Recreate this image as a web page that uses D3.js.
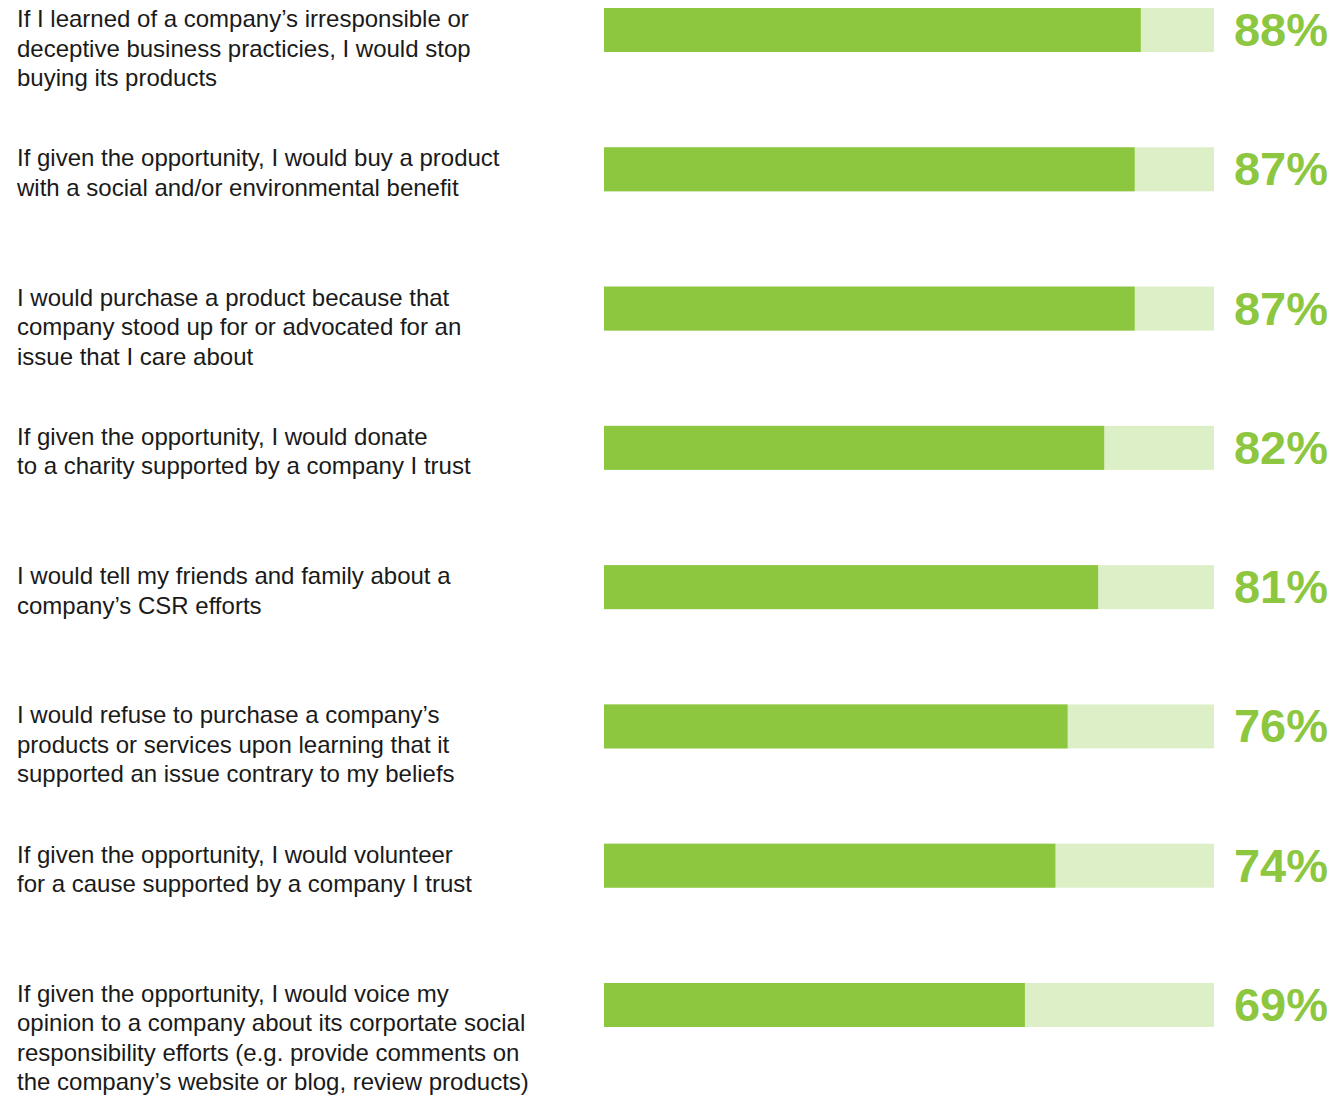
<!DOCTYPE html>
<html>
<head>
<meta charset="utf-8">
<script src="https://cdn.jsdelivr.net/npm/d3@7"></script>
<style>
    body { margin: 0; background: #fff; }
    svg { display: block; }
    .label { font-family: "Liberation Sans", Arial, Helvetica, sans-serif; font-size: 24px; fill: #1a1a1a; }
    .pct { font-family: "Liberation Sans", Arial, Helvetica, sans-serif; font-size: 47px; font-weight: bold; fill: #8dc63f; }
</style>
</head>
<body>
<svg id="chart"></svg>
<script>
// Survey statements (each entry = wrapped lines)
const statements = [
    ['If I learned of a company\u2019s irresponsible or', 'deceptive business practicies, I would stop', 'buying its products'],
    ['If given the opportunity, I would buy a product', 'with a social and/or environmental benefit'],
    ['I would purchase a product because that', 'company stood up for or advocated for an', 'issue that I care about'],
    ['If given the opportunity, I would donate', 'to a charity supported by a company I trust'],
    ['I would tell my friends and family about a', 'company\u2019s CSR efforts'],
    ['I would refuse to purchase a company\u2019s', 'products or services upon learning that it', 'supported an issue contrary to my beliefs'],
    ['If given the opportunity, I would volunteer', 'for a cause supported by a company I trust'],
    ['If given the opportunity, I would voice my', 'opinion to a company about its corportate social', 'responsibility efforts (e.g. provide comments on', 'the company\u2019s website or blog, review products)']
];

// Share of respondents agreeing (%)
const values = [88, 87, 87, 82, 81, 76, 74, 69];

const width = 1334;
const height = 1095;

const svg = d3.select('#chart')
    .attr('width', width)
    .attr('height', height);

const ids = d3.range(values.length);

const x = d3.scaleLinear()
    .domain([0, 100])
    .range([604, 1214]);

const y = d3.scaleBand()
    .domain(ids)
    .range([8, 1027])
    .paddingInner(0.684)
    .paddingOuter(0);

const rows = svg.selectAll('g.row')
    .data(ids)
    .enter()
    .append('g')
    .attr('class', 'row');

// Background track
rows.append('rect')
    .attr('x', x(0))
    .attr('y', i => y(i))
    .attr('width', x(100) - x(0))
    .attr('height', y.bandwidth())
    .attr('fill', '#dcefc6');

// Value bar
rows.append('rect')
    .attr('x', x(0))
    .attr('y', i => y(i))
    .attr('width', i => x(values[i]) - x(0))
    .attr('height', y.bandwidth())
    .attr('fill', '#8dc63f');

// Percent labels
rows.append('text')
    .attr('class', 'pct')
    .attr('x', 1328)
    .attr('y', i => y(i) + y.bandwidth() / 2 + 16)
    .attr('text-anchor', 'end')
    .text(i => values[i] + '%');

// Statement labels
const lineHeight = 29.5;
rows.append('text')
    .attr('class', 'label')
    .attr('x', 17)
    .attr('y', i => y(i) + 19)
    .selectAll('tspan')
    .data(i => statements[i])
    .enter()
    .append('tspan')
    .attr('x', 17)
    .attr('dy', (d, j) => j === 0 ? 0 : lineHeight)
    .text(d => d);
</script>
</body>
</html>
